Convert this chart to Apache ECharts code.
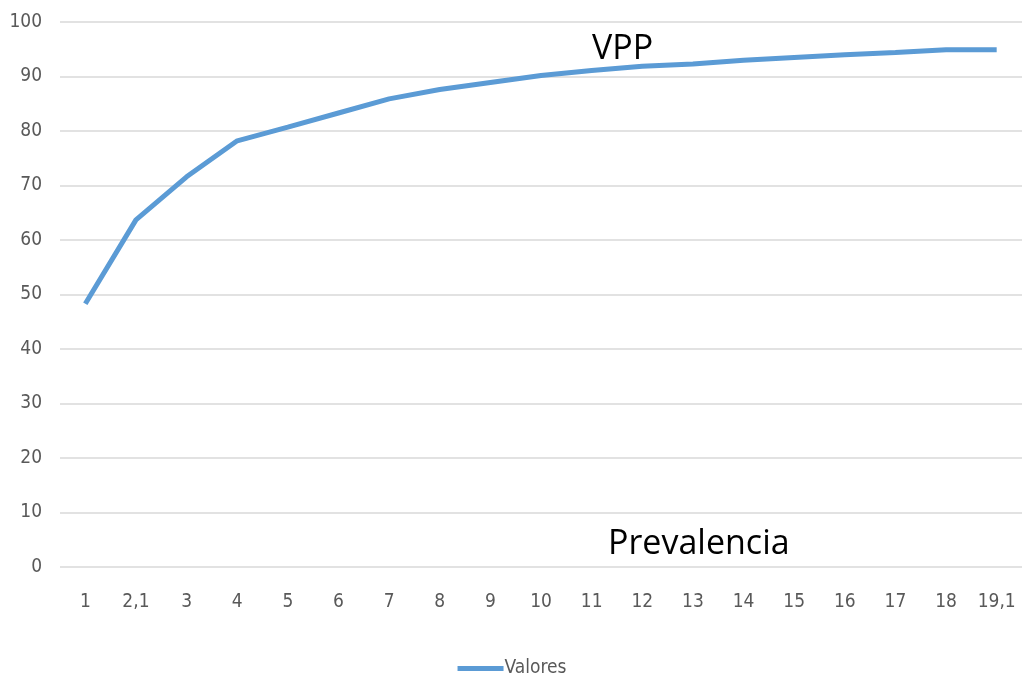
<!DOCTYPE html>
<html><head><meta charset="utf-8">
<script src="https://cdn.jsdelivr.net/npm/echarts@6/dist/echarts.min.js"></script>
<style>html,body{margin:0;padding:0;background:#fff}#c{width:1024px;height:677px}</style>
</head><body><div id="c"></div>
<script>
const categories = ['1','2,1','3','4','5','6','7','8','9','10','11','12','13','14','15','16','17','18','19,1'];
const valores = [48.3, 63.7, 71.6, 78.2, 80.7, 83.3, 85.9, 87.6, 88.9, 90.2, 91.1, 91.9, 92.3, 93.0, 93.5, 94.0, 94.4, 94.9, 94.9];
const yTicks = {min: 0, max: 100, interval: 10};
const labelFont = '"DejaVu Sans Condensed", "DejaVu Sans", sans-serif';
const chart = echarts.init(document.getElementById('c'));
chart.setOption({
  animation: false,
  grid: {left: 60, right: 2, top: 22, bottom: 110},
  xAxis: {
    type: 'category', data: categories, boundaryGap: true,
    axisLine: {show: false}, axisTick: {show: false},
    axisLabel: {color: '#595959', fontSize: 19, fontFamily: labelFont, margin: 26}
  },
  yAxis: {
    type: 'value', min: yTicks.min, max: yTicks.max, interval: yTicks.interval,
    axisLine: {show: false}, axisTick: {show: false},
    splitLine: {lineStyle: {color: '#d9d9d9', width: 1.5}},
    axisLabel: {color: '#595959', fontSize: 19, fontFamily: labelFont, margin: 18}
  },
  legend: {
    top: 654, left: 'center', data: ['Valores'],
    itemWidth: 46, itemHeight: 5, itemGap: 2,
    icon: 'rect',
    textStyle: {color: '#595959', fontSize: 19, fontFamily: labelFont, padding: [0,0,0,-4]}
  },
  graphic: [
    {type: 'text', left: 592, top: 32, style: {text: 'VPP', fill: '#000', font: '34px "Open Sans", "Noto Sans", sans-serif'}},
    {type: 'text', left: 608, top: 527, style: {text: 'Prevalencia', fill: '#000', font: '34px "Open Sans", "Noto Sans", sans-serif'}}
  ],
  series: [{
    name: 'Valores', type: 'line', data: valores,
    symbol: 'none', lineStyle: {color: '#5B9BD5', width: 5, cap: 'butt'},
    itemStyle: {color: '#5B9BD5'}
  }]
});
</script></body></html>
